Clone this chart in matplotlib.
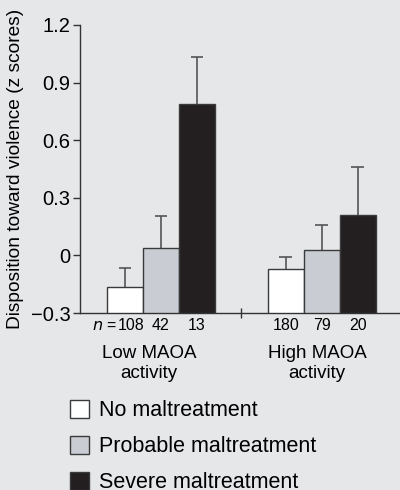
import matplotlib
matplotlib.use("Agg")
import matplotlib.pyplot as plt
from matplotlib.transforms import blended_transform_factory

plt.rcParams['font.family'] = ['Liberation Sans', 'DejaVu Sans']

# data
groups = ['Low MAOA\nactivity', 'High MAOA\nactivity']
series = ['No maltreatment', 'Probable maltreatment', 'Severe maltreatment']
colors = ['#ffffff', '#c9ccd3', '#231f20']
means = [[-0.163, -0.072],
         [0.040, 0.028],
         [0.789, 0.210]]
err_top = [[-0.064, -0.010],
           [0.205, 0.160],
           [1.035, 0.459]]
counts = [[108, 180], [42, 79], [13, 20]]

base = -0.3  # bars rise from the bottom of the axis
bg = '#e6e7e9'
fig = plt.figure(figsize=(4, 4.9), dpi=100, facecolor=bg)
ax = fig.add_axes([0.2, 0.3612, 0.8, 0.5878])
ax.set_facecolor(bg)

group_x = [0, 4.47]
bars = []
for i in range(3):
    xs = [g + i for g in group_x]
    heights = [m - base for m in means[i]]
    b = ax.bar(xs, heights, width=1.0, bottom=base, color=colors[i],
               edgecolor='#3a3a3a', linewidth=1.0, zorder=3, label=series[i])
    bars.append(b)
    # one-sided error bars (upward only)
    ax.vlines(xs, means[i], err_top[i], color='#555555', lw=1.2, zorder=2)
    ax.hlines(err_top[i], [x - 0.18 for x in xs], [x + 0.18 for x in xs],
              color='#555555', lw=1.2, zorder=2)

ax.set_ylim(-0.3, 1.2)
ax.set_xlim(-1.25, 7.64)
ax.set_yticks([-0.3, 0, 0.3, 0.6, 0.9, 1.2])
ax.set_yticklabels(['\u22120.3', '0', '0.3', '0.6', '0.9', '1.2'], fontsize=14.5)
ax.set_xticks([3.22])
ax.set_xticklabels([''])
ax.tick_params(axis='x', direction='inout', length=7, width=1, color='#333333')
ax.tick_params(axis='y', length=5, width=1, pad=2, color='#333333')
for s in ['top', 'right']:
    ax.spines[s].set_visible(False)
for s in ['left', 'bottom']:
    ax.spines[s].set_color('#333333')
    ax.spines[s].set_linewidth(1.0)
ax.set_ylabel('Disposition toward violence (z scores)', fontsize=13.8, labelpad=5)

tr = blended_transform_factory(ax.transData, ax.transAxes)
for i in range(3):
    for j, g in enumerate(group_x):
        off = 0.17 if (i == 0 and j == 0) else 0
        ax.text(g + i + off, -0.045, str(counts[i][j]), transform=tr,
                ha='center', va='center', fontsize=11.5)
ax.text(-0.22, -0.045, '$n$ =', transform=tr, ha='right', va='center', fontsize=11.5)

for j, g in enumerate(group_x):
    ax.text(g + 1 - 0.33 if j == 0 else g + 0.87, -0.175, groups[j], transform=tr,
            ha='center', va='center', fontsize=13.5, linespacing=1.25)

fig.legend(handles=bars, labels=series, loc='upper left',
           bbox_to_anchor=(0.175, 0.184), frameon=False, fontsize=15.5,
           handlelength=0.9, handleheight=0.9, handletextpad=0.45,
           labelspacing=0.68, borderpad=0, borderaxespad=0)

fig.savefig('out.png', dpi=100, facecolor=bg)
